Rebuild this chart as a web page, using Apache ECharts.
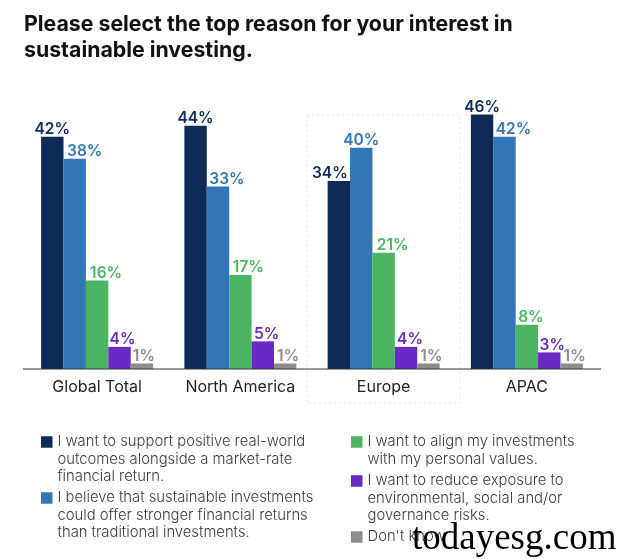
<!DOCTYPE html>
<html>
<head>
<meta charset="utf-8">
<script src="https://cdn.jsdelivr.net/npm/echarts@6/dist/echarts.min.js"></script>
<style>
html, body { margin: 0; padding: 0; background: #fff; }
#chart { width: 618px; height: 559px; }
</style>
</head>
<body>
<div id="chart"></div>
<script>
var titleText = 'Please select the top reason for your interest in\nsustainable investing.';
var regions = ['Global Total', 'North America', 'Europe', 'APAC'];

var supportOutcomes = [42, 44, 34, 46];
var strongerReturns = [38, 33, 40, 42];
var personalValues = [16, 17, 21, 8];
var reduceExposure = [4, 5, 4, 3];
var dontKnow = [1, 1, 1, 1];

var seriesNames = [
    'I want to support positive real-world outcomes alongside a market-rate financial return.',
    'I believe that sustainable investments could offer stronger financial returns than traditional investments.',
    'I want to align my investments with my personal values.',
    'I want to reduce exposure to environmental, social and/or governance risks.',
    "Don't know"
];
// 图例换行
var legendLines = [
    ['I want to support positive real-world', 'outcomes alongside a market-rate', 'financial return.'],
    ['I believe that sustainable investments', 'could offer stronger financial returns', 'than traditional investments.'],
    ['I want to align my investments', 'with my personal values.'],
    ['I want to reduce exposure to', 'environmental, social and/or', 'governance risks.'],
    ["Don't know"]
];
var colors = ['#0d2b56', '#3376b6', '#4bb563', '#6929c4', '#8d8d8d'];
var values = [supportOutcomes, strongerReturns, personalValues, reduceExposure, dontKnow];
var legendLeft = [41, 41, 351, 351, 351];
var legendFirstLine = [442, 498, 442, 481, 537];
// 数字标签的水平微调，避免压在相邻柱子上
var labelShift = [
    [0, 0, -9, 0],
    [10, 9, 0, 9],
    [9, 8, 9, 4],
    [3, 4, 4, 3],
    [2, 3, 3, 3]
];

var font = 'Inter, "Noto Sans", sans-serif';
var lineH = 17.5;

var chart = echarts.init(document.getElementById('chart'));

function barData (vals, shifts) {
    var out = [];
    for (var k = 0; k < vals.length; k++) {
        out.push({ value: vals[k], label: { offset: [shifts[k], 1.5] } });
    }
    return out;
}

var series = [];
var legends = [];
for (var i = 0; i < values.length; i++) {
    series.push({
        name: seriesNames[i],
        type: 'bar',
        data: barData(values[i], labelShift[i]),
        barWidth: 22.4,
        barGap: 0,
        z: 2,
        itemStyle: { color: colors[i] },
        label: {
            show: true,
            position: 'top',
            distance: 1,
            formatter: '{c}%',
            color: colors[i],
            fontFamily: font,
            fontSize: 15.5,
            fontWeight: 600
        }
    });
    // 前面补空行，让色块对齐第一行文字
    var blanks = new Array(legendLines[i].length).join('\n');
    legends.push({
        data: [seriesNames[i]],
        left: legendLeft[i],
        top: legendFirstLine[i] - lineH * (legendLines[i].length * 2 - 1) / 2,
        padding: 0,
        itemWidth: 11.5,
        itemHeight: 11.5,
        itemGap: 0,
        selectedMode: false,
        icon: 'rect',
        formatter: (function (text) {
            return function () { return text; };
        })(blanks + legendLines[i].join('\n')),
        textStyle: {
            color: '#3a3a3a',
            fontFamily: font,
            fontSize: 14.8,
            fontWeight: 300,
            lineHeight: lineH
        }
    });
}

var option = {
    animation: false,
    backgroundColor: '#fff',
    title: {
        text: titleText,
        left: 24,
        top: 12,
        padding: 0,
        textStyle: {
            color: '#111',
            fontFamily: font,
            fontSize: 21.3,
            fontWeight: 700,
            lineHeight: 26
        }
    },
    legend: legends,
    grid: { left: 25.5, top: 92.5, width: 573, height: 276.5 },
    xAxis: {
        type: 'category',
        data: regions,
        axisLine: { show: false },
        axisTick: { show: false },
        axisLabel: {
            color: '#222',
            fontFamily: font,
            fontSize: 16,
            margin: 10
        }
    },
    yAxis: {
        type: 'value',
        min: 0,
        max: 50,
        show: false
    },
    series: series,
    graphic: [
        {
            type: 'rect',
            silent: true,
            z: 0,
            shape: { x: 307, y: 115, width: 153, height: 288 },
            style: { fill: 'none', stroke: '#dfe3e6', lineWidth: 1, lineDash: [2, 3] }
        },
        {
            type: 'line',
            silent: true,
            z: 10,
            shape: { x1: 23, y1: 369, x2: 601, y2: 369 },
            style: { stroke: '#333', lineWidth: 1 }
        },
        {
            type: 'text',
            z: 20,
            left: 412,
            top: 521,
            style: {
                text: 'todayesg.com',
                fill: '#000',
                fontFamily: '"Liberation Serif", serif',
                fontSize: 37
            }
        }
    ]
};

chart.setOption(option);
</script>
</body>
</html>
